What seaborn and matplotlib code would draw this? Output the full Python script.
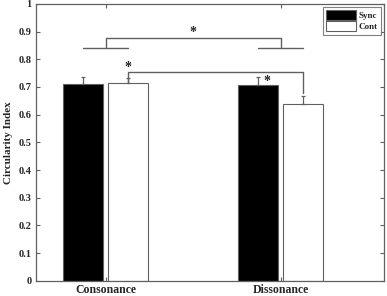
import numpy as np
import pandas as pd
import seaborn as sns
import matplotlib.pyplot as plt

# values
conditions = ['Consonance', 'Dissonance']
groups = ['Sync', 'Cont']
sync_means = [0.709, 0.708]
cont_means = [0.716, 0.637]
sync_err = [0.027, 0.028]
cont_err = [0.016, 0.032]

df = pd.DataFrame({
    'Condition': conditions * 2,
    'Group': ['Sync'] * 2 + ['Cont'] * 2,
    'Index': sync_means + cont_means,
})

sns.set_style('ticks')
plt.rcParams['font.family'] = ['Liberation Serif', 'DejaVu Serif']
plt.rcParams['font.weight'] = 'bold'

line_col = '#606060'

fig = plt.figure(figsize=(3.87, 2.96), dpi=100)
ax = fig.add_axes([0.093, 0.051, 0.899, 0.936])

sns.barplot(data=df, x='Condition', y='Index', hue='Group', order=conditions,
            hue_order=groups, palette=['black', 'white'], width=0.511, gap=0.11,
            edgecolor=line_col, linewidth=0.8, errorbar=None, ax=ax)

# upward-only error bars
errs = {'Sync': sync_err, 'Cont': cont_err}
means = {'Sync': sync_means, 'Cont': cont_means}
bar_x = {}
for g, cont in zip(groups, ax.containers):
    xs = [p.get_x() + p.get_width() / 2 for p in cont.patches]
    bar_x[g] = xs
    ax.errorbar(xs, means[g], yerr=[np.zeros(2), errs[g]], fmt='none',
                ecolor=line_col, elinewidth=0.9, capsize=1.5, capthick=0.9)

# significance brackets
lw = 1.0
top_lo, top_hi = 0.84, 0.877
for i in range(2):
    ax.plot([bar_x['Sync'][i], bar_x['Cont'][i]], [top_lo, top_lo], color=line_col, lw=lw)
ax.plot([0, 0, 1, 1], [top_lo, top_hi, top_hi, top_lo], color=line_col, lw=lw)
ax.text(0.5, top_hi - 0.004, '*', ha='center', va='bottom', fontsize=10)

mid = 0.754
c0, c1 = bar_x['Cont']
ax.plot([c0, c0, c1, c1], [cont_means[0], mid, mid, cont_means[1] + cont_err[1] + 0.01],
        color=line_col, lw=lw)
ax.text(c0, mid - 0.006, '*', ha='center', va='bottom', fontsize=10)
ax.text(bar_x['Sync'][1] + 0.05, sync_means[1] - 0.01, '*', ha='center', va='bottom', fontsize=10)

ax.set_xlim(-0.398, 1.591)
ax.set_ylim(0, 1)
ax.set_yticks(np.arange(0, 1.01, 0.1))
ax.set_yticklabels(['0', '0.1', '0.2', '0.3', '0.4', '0.5', '0.6', '0.7', '0.8', '0.9', '1'])
ax.tick_params(direction='in', length=3, width=0.8, color=line_col,
               top=True, right=True, labelsize=7.5, pad=3)
ax.tick_params(axis='x', labelsize=8.5, pad=2)
for lbl in ax.get_xticklabels() + ax.get_yticklabels():
    lbl.set_fontweight('bold')
for s in ax.spines.values():
    s.set_color(line_col)
    s.set_linewidth(0.9)

ax.set_xlabel('')
ax.set_ylabel('Circularity Index', fontsize=8, fontweight='bold', labelpad=4)

leg = ax.legend(loc='upper right', fontsize=6.5, frameon=True, fancybox=False,
                edgecolor=line_col, handlelength=3.3, handleheight=1.3,
                borderaxespad=0.3, borderpad=0.35, labelspacing=0.2, handletextpad=0.3)
leg.get_frame().set_linewidth(0.8)
for t in leg.get_texts():
    t.set_fontweight('bold')

fig.savefig('out.png', dpi=100)
